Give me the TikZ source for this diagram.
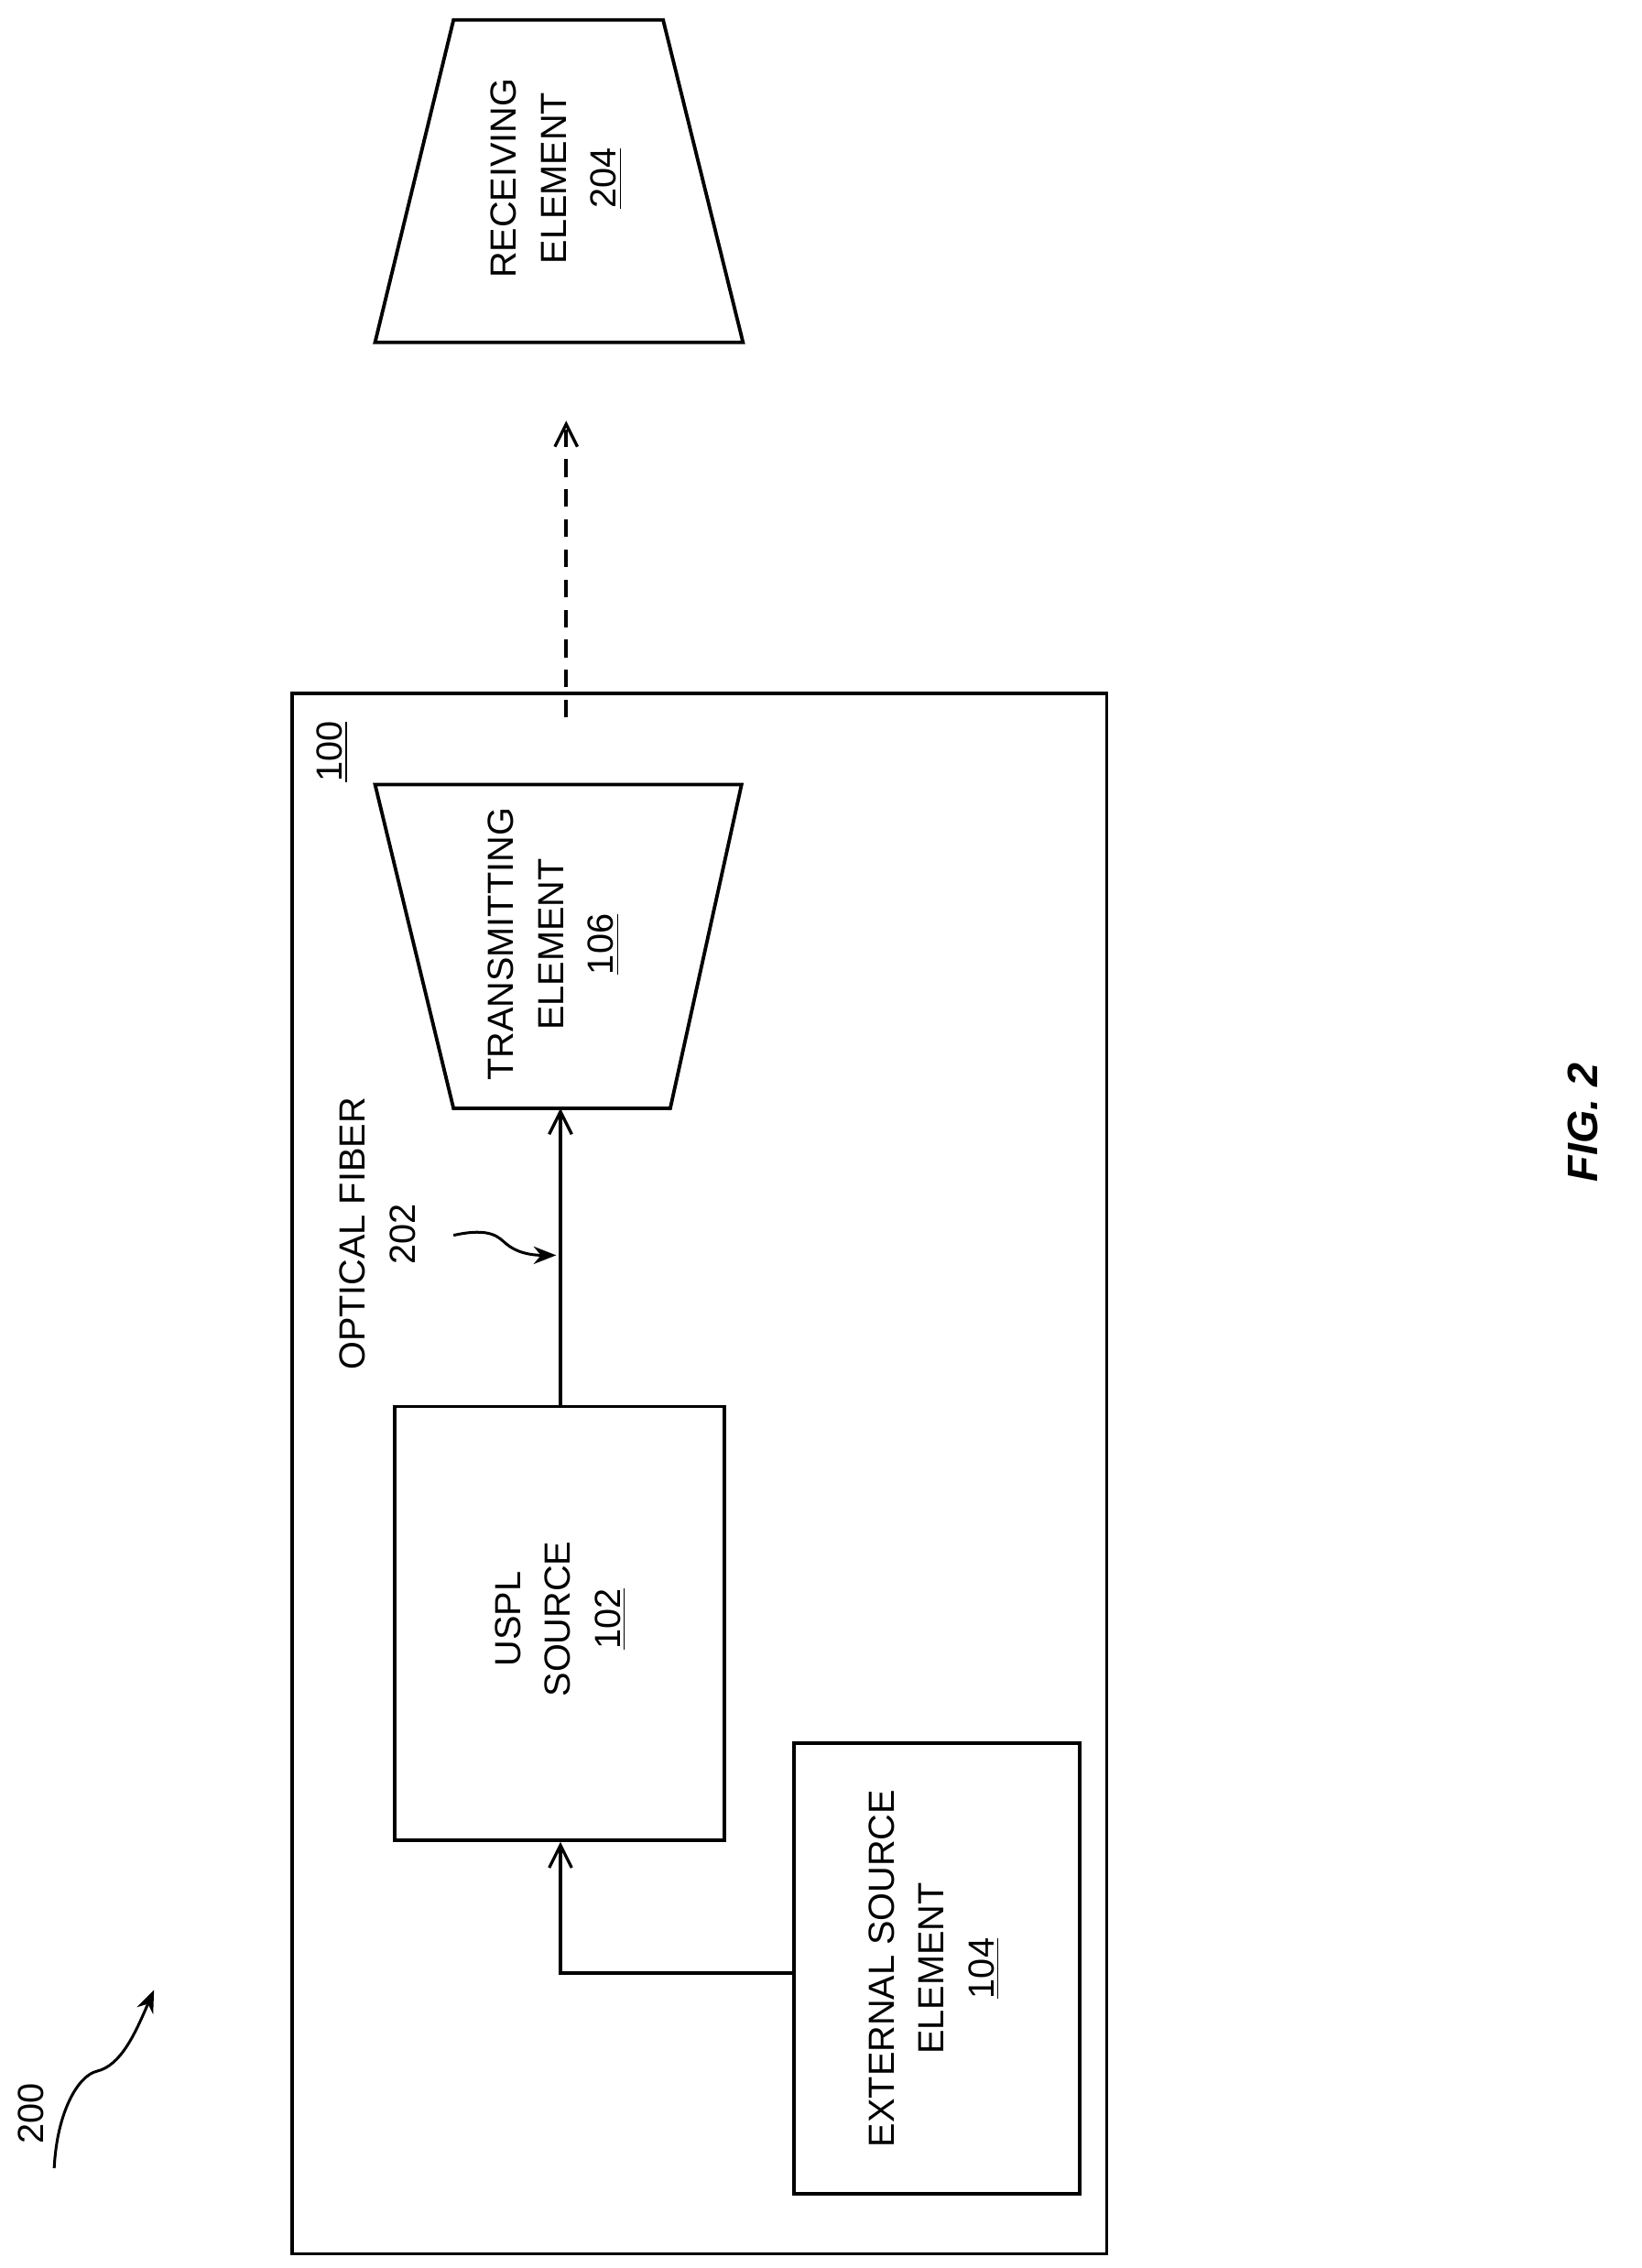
\documentclass[tikz,border=0pt]{standalone}
\usepackage{fontspec}
\setmainfont{Liberation Sans}
\usetikzlibrary{arrows.meta}
\begin{document}
\begin{tikzpicture}[x=0.02cm,y=-0.02cm,
  box/.style={draw,line width=1.4pt},
  conn/.style={line width=1.4pt,-{Straight Barb[length=9pt,width=9pt,line width=1.2pt]}},
  lbl/.style={rotate=90,align=center,font=\fontsize{14.5}{20}\selectfont},
  curvy/.style={line width=1.1pt,-{Stealth[length=9pt,width=7pt]}}]
\useasboundingbox (0,0) rectangle (1151,1590);
\draw[box] (205,486) rectangle (776,1580);
\node[lbl,anchor=south] (l100) at (250,527) {\underline{100}};
% transmitting
\draw[box] (263,550) -- (520,550) -- (470,777) -- (318,777) -- cycle;
\node[lbl] (t106) at (388,662) {TRANSMITTING\\ELEMENT\\\underline{106}};
\coordinate (tbot) at (393,777);
% receiving
\draw[box] (318,14) -- (465,14) -- (521,240) -- (263,240) -- cycle;
\node[lbl] (r204) at (390,125) {RECEIVING\\ELEMENT\\\underline{204}};
% dashed
\coordinate (d1) at (397,503);
\coordinate (d2) at (397,295);
\draw[conn,dashed,dash pattern=on 7pt off 5pt] (d1) -- (d2);
% uspl
\node[box,minimum width=231*0.02cm,minimum height=304*0.02cm] (uspl) at (392.5,1138) {};
\node[lbl] (ut) at (393,1135) {USPL\\SOURCE\\\underline{102}};
\draw[conn] (uspl.north -| tbot) -- (tbot);
% external
\node[box,minimum width=200*0.02cm,minimum height=316*0.02cm] (ext) at (657,1380) {};
\node[lbl] (et) at (655,1380) {EXTERNAL SOURCE\\ELEMENT\\\underline{104}};
\coordinate (bend) at (393,1383);
\draw[conn] (ext.west |- bend) -- (bend) -- (uspl.south -| bend);
% optical fiber label
\node[lbl] (of) at (265,865) {OPTICAL FIBER\\202};
\coordinate (ofa) at (390,880);
\draw[curvy] (318,866) .. controls (345,860) and (350,868) .. (355,872) .. controls (362,878) and (372,880) .. (ofa);
% 200
\node[lbl] (n200) at (22,1482) {200};
\coordinate (a200) at (108,1395);
\draw[curvy] (38,1520) .. controls (40,1480) and (55,1455) .. (68,1452) .. controls (85,1448) and (95,1425) .. (a200);
% fig
\node[rotate=90,font=\fontsize{17}{20}\selectfont\bfseries\itshape] (fig) at (1110,787) {FIG. 2};
\end{tikzpicture}
\end{document}
